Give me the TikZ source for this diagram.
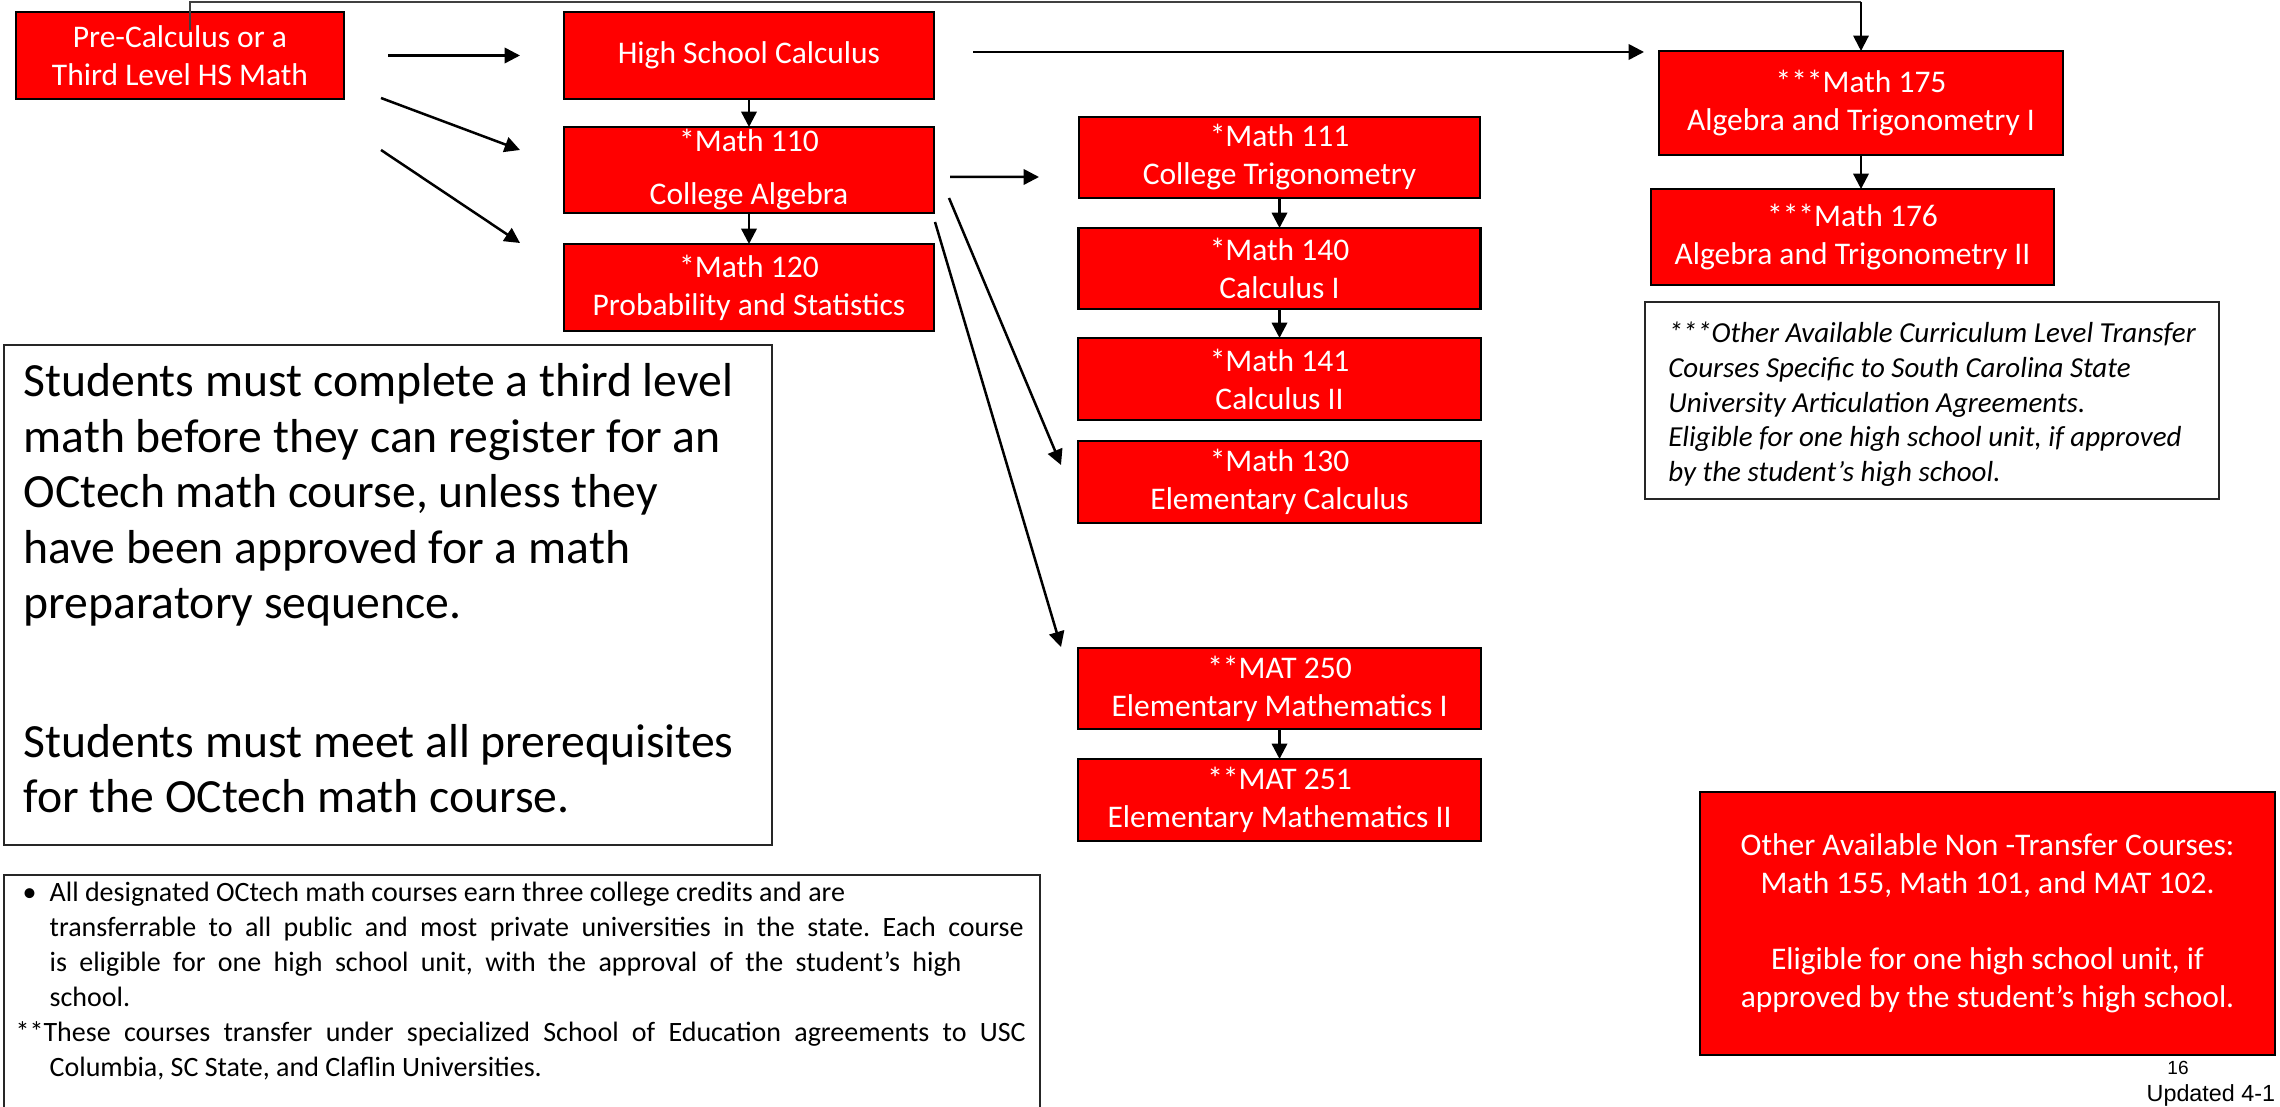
\documentclass[tikz,border=0pt]{standalone}
\usepackage{fontspec}
\setmainfont{Carlito}
\newfontfamily\arialf{Liberation Sans}
\usetikzlibrary{arrows.meta}
\newdimen\px \px=0.3pt
\definecolor{boxred}{HTML}{FF0000}
\frenchspacing
\tikzset{
  course/.style={draw=black, line width=0.75pt, fill=boxred, text=white, align=center,
    inner sep=0pt, outer sep=0pt, font=\fontsize{9.45pt}{11.4pt}\selectfont},
  arr/.style={line width=0.75pt, -{Triangle[length=4.6pt,width=4.6pt]}},
  thinline/.style={line width=0.35pt, draw=black!75},
  textbox/.style={draw=black!85, line width=0.5pt, fill=white, inner sep=0pt, outer sep=0pt},
}
\begin{document}
\begin{tikzpicture}[x=0.3pt,y=-0.3pt]
\useasboundingbox (0,0) rectangle (2280,1107);
\clip (0,0) rectangle (2280,1107);

% course boxes
\node[course, minimum width=328\px, minimum height=87\px] (pre) at (180,55.5) {Pre-Calculus or a\\Third Level HS Math};
\node[course, minimum width=370\px, minimum height=87\px] (hs) at (749,55.5) {High School Calculus};
\node[course, minimum width=370\px, minimum height=86\px] (m110) at (749,170) {*Math 110\\[15\px]College Algebra};
\node[course, minimum width=370\px, minimum height=87\px] (m120) at (749,287.5) {*Math 120\\Probability and Statistics};
\node[course, minimum width=401\px, minimum height=81\px] (m111) at (1279.5,157.5) {*Math 111\\College Trigonometry};
\node[course, minimum width=402\px, minimum height=81\px] (m140) at (1279.5,268.5) {*Math 140\\Calculus I};
\node[course, minimum width=403\px, minimum height=82\px] (m141) at (1279.5,379) {*Math 141\\Calculus II};
\node[course, minimum width=403\px, minimum height=82\px] (m130) at (1279.5,482) {*Math 130\\Elementary Calculus};
\node[course, minimum width=403\px, minimum height=81\px] (m250) at (1279.5,688.5) {**MAT 250\\Elementary Mathematics I};
\node[course, minimum width=403\px, minimum height=82\px] (m251) at (1279.5,800) {**MAT 251\\Elementary Mathematics II};
\node[course, minimum width=404\px, minimum height=104\px] (m175) at (1861,103) {***Math 175\\Algebra and Trigonometry I};
\node[course, minimum width=403\px, minimum height=96\px] (m176) at (1852.5,237) {***Math 176\\Algebra and Trigonometry II};
\node[course, minimum width=575\px, minimum height=263\px] (other) at (1987.5,923.5)
  {Other Available Non -Transfer Courses:\\Math 155, Math 101, and MAT 102.\\[38.5\px]Eligible for one high school unit, if\\approved by the student’s high school.};

% italic note box
\node[textbox, line width=0.75pt, minimum width=574\px, minimum height=197\px,
  align=left, font=\itshape\fontsize{8.7pt}{10.4pt}\selectfont] (note) at (1932,400.5)
  {\rule{0pt}{0.98em}***Other Available Curriculum Level Transfer\\Courses Specific to South Carolina State\\University Articulation Agreements.\\Eligible for one high school unit, if approved\\by the student’s high school.};

% students box
\node[textbox, anchor=north west, minimum width=768\px, minimum height=500\px] (stud) at (4,345) {};
\node[anchor=north west, inner sep=0pt, align=left, font=\fontsize{14.3pt}{16.65pt}\selectfont] (studtext) at (23,363)
  {Students must complete a third level\\math before they can register for an\\OCtech math course, unless they\\have been approved for a math\\preparatory sequence.\\[83\px]Students must meet all prerequisites\\for the OCtech math course.};

% bottom note box (runs past the lower edge)
\node[textbox, anchor=north west, minimum width=1036\px, minimum height=260\px] (bnote) at (4,875) {};
\node[anchor=north west, inner sep=0pt, align=left, font=\fontsize{8.4pt}{10.5pt}\selectfont] (btext) at (5,881)
  {\makebox[44\px][l]{\hspace*{17\px}•}All designated OCtech math courses earn three college credits and are\\
   \hspace*{44\px}\makebox[974\px][s]{transferrable to all public and most private universities in the state. Each course}\\
   \hspace*{44\px}\makebox[912\px][s]{is eligible for one high school unit, with the approval of the student’s high}\\
   \hspace*{44\px}school.\\
   \hspace*{10\px}\makebox[1010\px][s]{**These courses transfer under specialized School of Education agreements to USC}\\
   \hspace*{44\px}Columbia, SC State, and Claflin Universities.};

% page number and update note
\node[inner sep=0pt, font=\arialf\fontsize{5.7pt}{7pt}\selectfont] (pnum) at (2178,1068) {16};
\node[anchor=base west, inner sep=0pt, font=\arialf\fontsize{7pt}{8.4pt}\selectfont] (upd) at (2146,1101) {Updated 4-1};

% connectors
\draw[arr] ([xshift=44\px]pre.east) -- ([xshift=-44\px]hs.west);
\draw[arr] ([xshift=37\px,yshift=1\px]pre.south east) -- ([xshift=-44\px,yshift=20\px]m110.west);
\draw[arr] ([xshift=37\px,yshift=-51\px]pre.south east) -- ([xshift=-44\px,yshift=1\px]m120.north west);
\draw[arr] (hs) -- (m110);
\draw[arr] (m110) -- (m120);
\draw[arr] ([xshift=39\px,yshift=3.5\px]hs.east) -- ([xshift=-15\px,yshift=-1\px]m175.north west);
\draw[arr] ([xshift=16\px,yshift=-7\px]m110.east) -- ([xshift=-40\px,yshift=-19.5\px]m111.west);
\draw[arr] ([xshift=15\px,yshift=-28\px]m110.east) -- ([xshift=-17\px,yshift=-24\px]m130.north west);
\draw[arr] ([xshift=1\px,yshift=-9\px]m110.south east) -- ([xshift=-17\px,yshift=1\px]m250.north west);
\draw[arr] (m111) -- (m140);
\draw[arr] (m140) -- (m141);
\draw[arr] (m250) -- (m251);
\draw[arr] (m175.south) -- (m175.south |- m176.north);

\coordinate (topL) at (190,30);
\coordinate (topR) at (1861,2);
\draw[thinline] (topL) |- (topR);
\draw[arr, line width=0.6pt] (topR) -- (m175.north);
\end{tikzpicture}
\end{document}
